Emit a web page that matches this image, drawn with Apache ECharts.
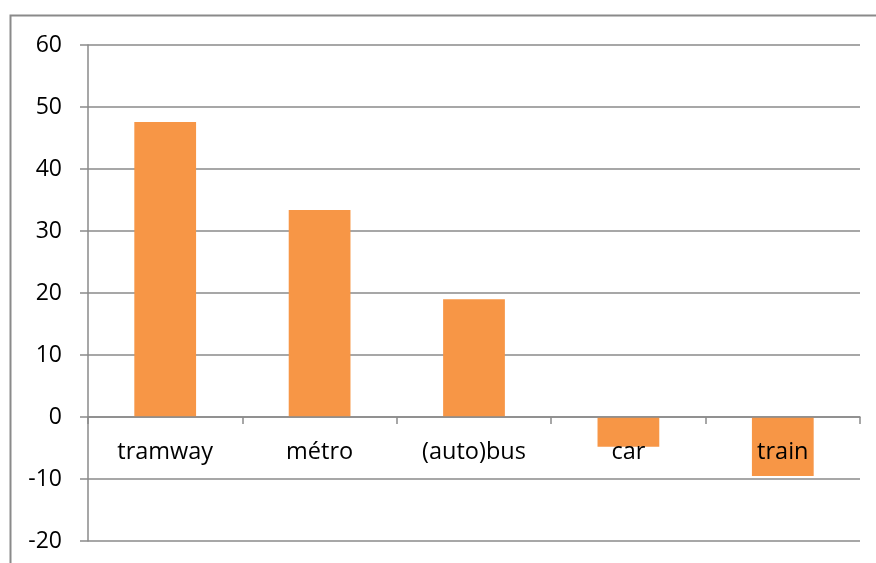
<!DOCTYPE html>
<html>
<head>
<meta charset="utf-8">
<script src="https://cdn.jsdelivr.net/npm/echarts@6/dist/echarts.min.js"></script>
<style>
  html, body { margin: 0; padding: 0; background: #fff; }
  #chart { width: 876px; height: 563px; }
</style>
</head>
<body>
<div id="chart"></div>
<script>
// categories and values
const categories = ['tramway', 'métro', '(auto)bus', 'car', 'train']
const values = [47.6, 33.4, 19.0, -4.8, -9.5]

const gridColor = '#8a8a8a'
const chart = echarts.init(document.getElementById('chart'))

// category names sit just under the zero line, so they are drawn as labels of an invisible series at y = 0
const zeroLabels = categories.map(c => [c, 0])

const option = {
  animation: false,
  textStyle: { fontFamily: 'Open Sans' },
  graphic: [
    {
      type: 'rect',
      shape: { x: 10.5, y: 15.5, width: 900, height: 600 },
      style: { fill: 'none', stroke: gridColor, lineWidth: 2 },
      silent: true
    }
  ],
  grid: { left: 88, right: 16, top: 45, bottom: 22, containLabel: false, outerBoundsMode: 'none' },
  xAxis: {
    type: 'category',
    data: categories,
    z: 5,
    axisLine: { onZero: true, lineStyle: { color: gridColor, width: 1.5 } },
    axisTick: { show: true, length: 7, lineStyle: { color: gridColor, width: 1.5 } },
    axisLabel: { show: false }
  },
  yAxis: {
    type: 'value',
    min: -20,
    max: 60,
    interval: 10,
    axisLine: { show: true, lineStyle: { color: gridColor, width: 1.5 } },
    axisTick: { show: true, length: 8, lineStyle: { color: gridColor, width: 1.5 } },
    axisLabel: { color: '#000', fontSize: 23, margin: 26 },
    splitLine: { show: true, lineStyle: { color: gridColor, width: 1.5 } }
  },
  series: [
    {
      type: 'bar',
      data: values,
      barWidth: '40%',
      itemStyle: { color: '#F79646' }
    },
    {
      type: 'scatter',
      data: zeroLabels,
      symbolSize: 0,
      z: 10,
      silent: true,
      itemStyle: { opacity: 1 },
      label: {
        show: true,
        position: 'bottom',
        distance: 23,
        color: '#000',
        opacity: 1,
        fontSize: 23.5,
        formatter: p => p.value[0]
      }
    }
  ]
}

chart.setOption(option)
</script>
</body>
</html>
